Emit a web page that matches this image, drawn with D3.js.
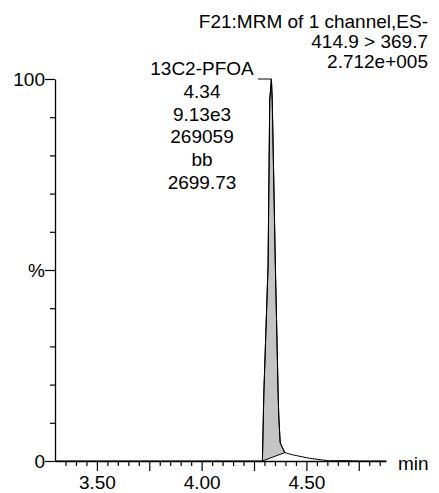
<!DOCTYPE html>
<html>
<head>
<meta charset="utf-8">
<script src="https://cdn.jsdelivr.net/npm/d3@7"></script>
<style>
  body { margin: 0; background: #fff; }
  text { font-family: "Liberation Sans", Arial, Helvetica, sans-serif; font-size: 19px; fill: #000; }
</style>
</head>
<body>
<div id="chart"></div>
<script>
// chromatogram trace (min, % of max)
var times     = [3.30, 4.29, 4.297, 4.317, 4.325, 4.333, 4.337, 4.352, 4.365, 4.368, 4.375, 4.397, 4.435, 4.516, 4.578, 4.611, 4.692, 4.72, 4.75, 4.88];
var intensity = [0,    0,    18,    51,    94.5,  100,   94.5,  51,    18,    12,    4.7,   2.2,   1.6,   0.7,   0.26,  0.05,  0.1,   0.05, 0,    0];

// integrated peak start / end (min)
var peakStart = 4.29;
var peakEnd = 4.397;
var peakApex = 4.333;

var titleLines = ["F21:MRM of 1 channel,ES-", "414.9 > 369.7", "2.712e+005"];
var peakLabel = ["13C2-PFOA", "4.34", "9.13e3", "269059", "bb", "2699.73"];

var xLabelTicks = [3.50, 4.00, 4.50];
var xMajorTicks = [3.50, 3.75, 4.00, 4.25, 4.50, 4.75];
var yTicks = [0, 10, 20, 30, 40, 50, 60, 70, 80, 90, 100];
var yLabels = {0: "0", 50: "%", 100: "100"};

var svgWidth = 439;
var svgHeight = 493;
var margin = {top: 79, right: 53, bottom: 32, left: 55};
var height = svgHeight - margin.top - margin.bottom;
var width = svgWidth - margin.left - margin.right;

var svg = d3.select("#chart")
    .append("svg")
    .attr("width", svgWidth)
    .attr("height", svgHeight);

var chartGroup = svg.append("g")
    .attr("transform", `translate(${margin.left},${margin.top})`);

var xScale = d3.scaleLinear().domain([3.30, 4.88]).range([0, width]);
var yScale = d3.scaleLinear().domain([0, 100]).range([height, 0]);

var data = times.map((t, i) => ({t: t, v: intensity[i]}));

// shaded integrated area, closed back along the drop line
var peakData = data.filter(d => d.t >= peakStart && d.t <= peakEnd);
var line = d3.line().x(d => xScale(d.t)).y(d => yScale(d.v));

chartGroup.append("path")
    .attr("d", line(peakData) + "Z")
    .attr("fill", "#c4c4c4")
    .attr("stroke", "#000")
    .attr("stroke-width", 1);

chartGroup.append("path")
    .datum(data)
    .attr("d", line)
    .attr("fill", "none")
    .attr("stroke", "#000")
    .attr("stroke-width", 1);

// x axis
var xTicks = d3.range(67, 98).map(i => i * 0.05);
var xAxis = chartGroup.append("g")
    .attr("transform", `translate(0,${height})`)
    .call(d3.axisBottom(xScale)
        .tickValues(xTicks)
        .tickSizeOuter(0)
        .tickFormat(d => xLabelTicks.some(v => Math.abs(v - d) < 1e-6) ? d3.format(".2f")(d) : ""));
xAxis.select(".domain").attr("stroke-width", 1.3);
xAxis.selectAll(".tick line")
    .attr("y2", d => xMajorTicks.some(v => Math.abs(v - d) < 1e-6) ? 10 : 5)
    .attr("stroke-width", 1.2);
xAxis.selectAll(".tick text")
    .attr("y", 28)
    .attr("dy", 0)
    .style("font-size", "19px")
    .style("font-family", "Liberation Sans, Arial, sans-serif");

chartGroup.append("text")
    .attr("x", width + 12)
    .attr("y", height + 9)
    .text("min");

// y axis
var yAxis = chartGroup.append("g")
    .call(d3.axisLeft(yScale)
        .tickValues(yTicks)
        .tickSizeOuter(0)
        .tickFormat(d => yLabels[d] || ""));
yAxis.select(".domain").attr("stroke-width", 1.3);
yAxis.selectAll(".tick line")
    .attr("x2", d => yLabels[d] ? -10 : -5)
    .attr("stroke-width", 1.2);
yAxis.selectAll(".tick text")
    .attr("x", -10)
    .attr("dy", "0.36em")
    .style("font-size", "19px")
    .style("font-family", "Liberation Sans, Arial, sans-serif");

// peak annotation
var labelX = 202;
chartGroup.selectAll(".peak_label")
    .data(peakLabel)
    .enter()
    .append("text")
    .classed("peak_label", true)
    .attr("x", labelX - margin.left)
    .attr("y", (d, i) => -4 + i * 22.8)
    .attr("text-anchor", "middle")
    .text(d => d);

chartGroup.append("line")
    .attr("x1", 258 - margin.left)
    .attr("x2", xScale(peakApex))
    .attr("y1", yScale(100))
    .attr("y2", yScale(100))
    .attr("stroke", "#000")
    .attr("stroke-width", 1);

// header
svg.selectAll(".title")
    .data(titleLines)
    .enter()
    .append("text")
    .classed("title", true)
    .attr("x", 428)
    .attr("y", (d, i) => 28 + i * 20)
    .attr("text-anchor", "end")
    .text(d => d);
</script>
</body>
</html>
